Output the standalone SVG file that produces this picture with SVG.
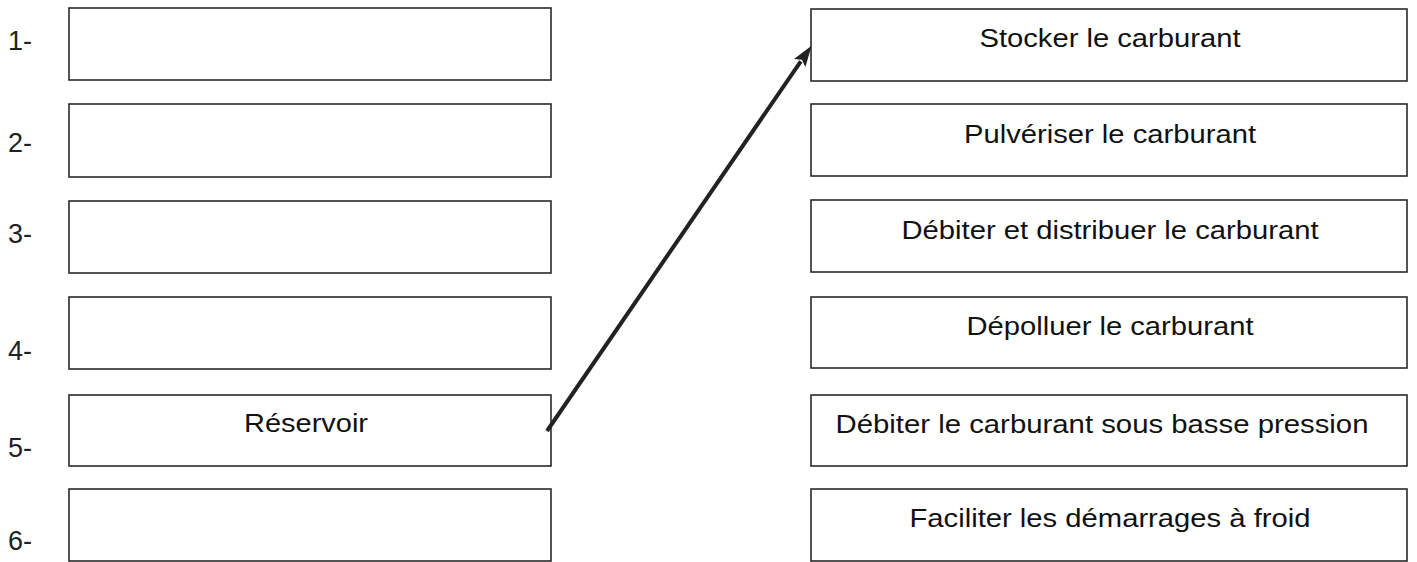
<svg xmlns="http://www.w3.org/2000/svg" width="1417" height="562" viewBox="0 0 1417 562">
<defs>
<style>
.box{fill:#fff;stroke:#2a2a2a;stroke-width:1.6}
.lbl{font-family:"Liberation Sans",Arial,sans-serif;font-size:26px;fill:#111;text-anchor:middle}
.num{font-family:"Liberation Sans",Arial,sans-serif;font-size:27px;fill:#222}
.conn{stroke:#222;stroke-width:4;fill:none}
</style>
<marker id="ah" markerUnits="userSpaceOnUse" markerWidth="22" markerHeight="14" refX="2" refY="7" orient="auto">
<path d="M0,0 L21,7 L0,14 L4,7 z" fill="#222"/>
</marker>
</defs>
<rect width="1417" height="562" fill="#fff"/>
<g id="numbers">
<text class="num" x="8" y="50">1-</text>
<text class="num" x="8" y="152">2-</text>
<text class="num" x="8" y="243">3-</text>
<text class="num" x="8" y="360">4-</text>
<text class="num" x="8" y="457">5-</text>
<text class="num" x="8" y="550">6-</text>
</g>
<g id="left1"><rect class="box" x="69" y="8" width="482" height="72"/></g>
<g id="left2"><rect class="box" x="69" y="104" width="482" height="73"/></g>
<g id="left3"><rect class="box" x="69" y="201" width="482" height="72"/></g>
<g id="left4"><rect class="box" x="69" y="297" width="482" height="72"/></g>
<g id="left5"><rect class="box" x="69" y="395" width="482" height="71"/>
<text class="lbl" x="306" y="432" textLength="124" lengthAdjust="spacingAndGlyphs">Réservoir</text></g>
<g id="left6"><rect class="box" x="69" y="489" width="482" height="72"/></g>
<g id="right1"><rect class="box" x="811" y="9" width="596" height="72"/>
<text class="lbl" x="1110" y="47" textLength="261" lengthAdjust="spacingAndGlyphs">Stocker le carburant</text></g>
<g id="right2"><rect class="box" x="811" y="104" width="596" height="72"/>
<text class="lbl" x="1110" y="143" textLength="292" lengthAdjust="spacingAndGlyphs">Pulvériser le carburant</text></g>
<g id="right3"><rect class="box" x="811" y="200" width="596" height="72"/>
<text class="lbl" x="1110" y="239" textLength="417" lengthAdjust="spacingAndGlyphs">Débiter et distribuer le carburant</text></g>
<g id="right4"><rect class="box" x="811" y="297" width="596" height="71"/>
<text class="lbl" x="1110" y="335" textLength="287" lengthAdjust="spacingAndGlyphs">Dépolluer le carburant</text></g>
<g id="right5"><rect class="box" x="811" y="395" width="596" height="71"/>
<text class="lbl" x="1102" y="433" textLength="533" lengthAdjust="spacingAndGlyphs">Débiter le carburant sous basse pression</text></g>
<g id="right6"><rect class="box" x="811" y="489" width="596" height="72"/>
<text class="lbl" x="1110" y="527" textLength="401" lengthAdjust="spacingAndGlyphs">Faciliter les démarrages à froid</text></g>
<g id="connectors">
<line class="conn" x1="547" y1="431" x2="800.8" y2="61.3" marker-end="url(#ah)"/>
</g>
</svg>
